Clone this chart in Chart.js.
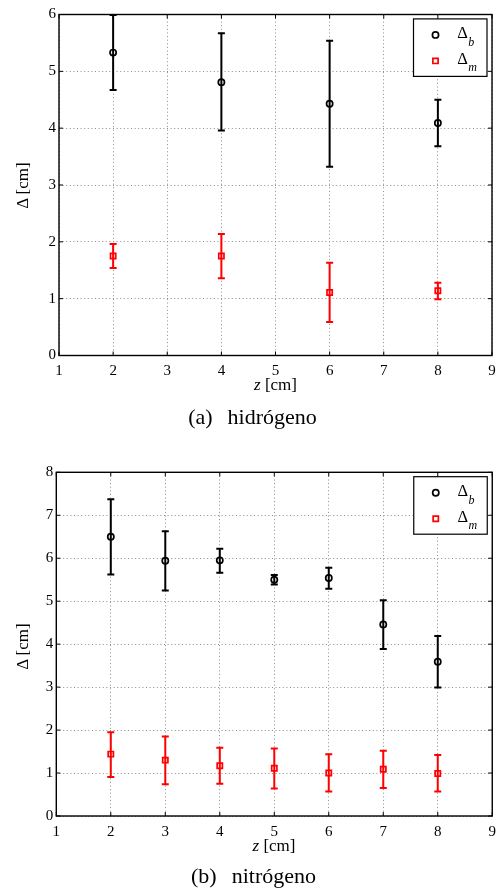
<!DOCTYPE html>
<html>
<head>
<meta charset="utf-8">
<script src="https://cdn.jsdelivr.net/npm/chart.js@4"></script>
<style>
  html, body { margin: 0; padding: 0; background: #fff; }
  #page { position: relative; width: 503px; height: 889px; overflow: hidden; font-family: "Liberation Serif", "Times New Roman", serif; color: #000; }
  canvas { position: absolute; left: 0; }
  .xt { position: absolute; left: 0; width: 100%; text-align: center; font-size: 17px; line-height: 17px; white-space: nowrap; }
  .yt { position: absolute; width: 80px; height: 17px; font-size: 17px; line-height: 17px; text-align: center; white-space: nowrap; transform: rotate(-90deg); }
  .cap { position: absolute; left: 0; width: 100%; text-align: center; font-size: 22px; line-height: 22px; white-space: nowrap; }
  .cap .gap { display: inline-block; width: 15px; }
</style>
</head>
<body>
<div id="page">
  <canvas id="chartH" width="503" height="400" style="top:0"></canvas>
  <canvas id="chartN" width="503" height="420" style="top:440px"></canvas>

  <div class="yt" style="left:-18px; top:176.5px">Δ [cm]</div>
  <div class="xt" style="top:375.8px; padding-left:48px; box-sizing:border-box; width:503px"><i>z</i> [cm]</div>
  <div class="cap" style="top:406px; padding-left:2px; box-sizing:border-box">(a)<span class="gap"></span>hidrógeno</div>

  <div class="yt" style="left:-18px; top:637.5px">Δ [cm]</div>
  <div class="xt" style="top:836.8px; padding-left:45px; box-sizing:border-box; width:503px"><i>z</i> [cm]</div>
  <div class="cap" style="top:864.6px; padding-left:4px; box-sizing:border-box">(b)<span class="gap"></span>nitrógeno</div>
</div>

<script>
// ---- hidrógeno ----
const zH      = [2, 4, 6, 8];
const hBMean  = [5.33, 4.81, 4.43, 4.09];
const hBLow   = [4.67, 3.96, 3.32, 3.68];
const hBHigh  = [5.99, 5.67, 5.54, 4.50];
const hMMean  = [1.75, 1.75, 1.11, 1.14];
const hMLow   = [1.54, 1.36, 0.59, 0.99];
const hMHigh  = [1.96, 2.14, 1.63, 1.28];

// ---- nitrógeno ----
const zN      = [2, 3, 4, 5, 6, 7, 8];
const nBMean  = [6.50, 5.94, 5.95, 5.50, 5.54, 4.46, 3.59];
const nBLow   = [5.62, 5.25, 5.66, 5.39, 5.29, 3.89, 2.99];
const nBHigh  = [7.37, 6.63, 6.22, 5.61, 5.78, 5.02, 4.19];
const nMMean  = [1.44, 1.30, 1.17, 1.11, 1.00, 1.09, 0.99];
const nMLow   = [0.91, 0.74, 0.75, 0.64, 0.57, 0.65, 0.57];
const nMHigh  = [1.95, 1.85, 1.59, 1.57, 1.44, 1.52, 1.42];

// axis ranges (tick labels are every integer)
const xRange  = [1, 9];
const yRangeH = [0, 6];
const yRangeN = [0, 8];

const legendLabels = [['Δ', 'b'], ['Δ', 'm']];

const FONT = '"Liberation Serif", "Times New Roman", serif';
const RED = '#ff0000';

function pts(xs, ys) { return xs.map((x, i) => ({ x: x, y: ys[i] })); }

// vertical error bars with caps, drawn from each dataset's low/high arrays
const errorBars = {
  id: 'errorBars',
  beforeDatasetsDraw(chart) {
    const ctx = chart.ctx, xs = chart.scales.x, ys = chart.scales.y;
    chart.data.datasets.forEach(ds => {
      ctx.save();
      ctx.strokeStyle = ds.borderColor;
      ctx.lineWidth = 2;
      ds.data.forEach((p, i) => {
        const px = xs.getPixelForValue(p.x);
        const y1 = ys.getPixelForValue(ds.errLow[i]);
        const y2 = ys.getPixelForValue(ds.errHigh[i]);
        const cw = 3.5;
        ctx.beginPath();
        ctx.moveTo(px, y1); ctx.lineTo(px, y2);
        ctx.moveTo(px - cw, y1); ctx.lineTo(px + cw, y1);
        ctx.moveTo(px - cw, y2); ctx.lineTo(px + cw, y2);
        ctx.stroke();
      });
      ctx.restore();
    });
  }
};

// closed box around the plot with inward ticks on all four sides
const frame = {
  id: 'frame',
  afterDraw(chart) {
    const ctx = chart.ctx, a = chart.chartArea, xs = chart.scales.x, ys = chart.scales.y;
    ctx.save();
    ctx.strokeStyle = '#000';
    ctx.lineWidth = 1.4;
    ctx.strokeRect(a.left, a.top, a.right - a.left, a.bottom - a.top);
    ctx.lineWidth = 1;
    ctx.beginPath();
    const tl = 4;
    xs.ticks.forEach(t => {
      const px = xs.getPixelForValue(t.value);
      ctx.moveTo(px, a.bottom); ctx.lineTo(px, a.bottom - tl);
      ctx.moveTo(px, a.top); ctx.lineTo(px, a.top + tl);
    });
    ys.ticks.forEach(t => {
      const py = ys.getPixelForValue(t.value);
      ctx.moveTo(a.left, py); ctx.lineTo(a.left + tl, py);
      ctx.moveTo(a.right, py); ctx.lineTo(a.right - tl, py);
    });
    ctx.stroke();
    ctx.restore();
  }
};

// boxed legend in the upper right corner of the plot
const boxLegend = {
  id: 'boxLegend',
  afterDraw(chart) {
    const ctx = chart.ctx, a = chart.chartArea;
    const W = 73.5, H = 57.5;
    const L = a.right - 5 - W, T = a.top + 4.4;
    ctx.save();
    ctx.fillStyle = '#fff';
    ctx.fillRect(L, T, W, H);
    ctx.strokeStyle = '#000';
    ctx.lineWidth = 1.2;
    ctx.strokeRect(L, T, W, H);
    const rows = [
      { my: 16, base: 19, sub: 27.2 },
      { my: 42, base: 44.8, sub: 52.4 }
    ];
    chart.data.datasets.forEach((ds, i) => {
      const r = rows[i];
      ctx.fillStyle = '#fff';
      ctx.strokeStyle = ds.borderColor;
      ctx.lineWidth = ds.borderWidth;
      Chart.helpers.drawPoint(ctx, {
        pointStyle: ds.pointStyle,
        radius: ds.pointRadius,
        borderWidth: ds.borderWidth
      }, L + 22, T + r.my);
      ctx.fillStyle = '#000';
      ctx.font = '16.5px ' + FONT;
      ctx.textBaseline = 'alphabetic';
      ctx.textAlign = 'left';
      const [main, sub] = legendLabels[i];
      ctx.fillText(main, L + 43.7, T + r.base);
      const w = ctx.measureText(main).width;
      ctx.font = 'italic 12px ' + FONT;
      ctx.fillText(sub, L + 43.7 + w + 0.5, T + r.sub);
    });
    ctx.restore();
  }
};

function makeChart(id, zs, bMean, bLow, bHigh, mMean, mLow, mHigh, yRange, geom) {
  return new Chart(document.getElementById(id), {
    type: 'scatter',
    data: {
      datasets: [
        {
          label: 'Δb',
          data: pts(zs, bMean),
          errLow: bLow, errHigh: bHigh,
          pointStyle: 'circle', pointRadius: 3.1, borderWidth: 1.7,
          borderColor: '#000', backgroundColor: 'rgba(0,0,0,0)'
        },
        {
          label: 'Δm',
          data: pts(zs, mMean),
          errLow: mLow, errHigh: mHigh,
          pointStyle: 'rect', pointRadius: 3.7, borderWidth: 1.7,
          borderColor: RED, backgroundColor: 'rgba(0,0,0,0)'
        }
      ]
    },
    options: {
      responsive: false,
      animation: false,
      events: [],
      layout: { padding: { top: geom.top, right: geom.right, left: 0, bottom: 0 } },
      plugins: { legend: { display: false }, tooltip: { enabled: false } },
      scales: {
        x: {
          type: 'linear', min: xRange[0], max: xRange[1],
          afterFit(s) { s.height = geom.xh; },
          ticks: { stepSize: 1, padding: 7, color: '#000', font: { family: FONT, size: 15 }, maxRotation: 0 },
          grid: { color: '#8c8c8c', lineWidth: 1, drawTicks: false },
          border: { display: false, dash: [1, 2.6] }
        },
        y: {
          type: 'linear', min: yRange[0], max: yRange[1],
          afterFit(s) { s.width = geom.yw; },
          ticks: { stepSize: 1, padding: 3, color: '#000', font: { family: FONT, size: 15 } },
          grid: { color: '#8c8c8c', lineWidth: 1, drawTicks: false },
          border: { display: false, dash: [1, 2.6] }
        }
      }
    },
    plugins: [errorBars, frame, boxLegend]
  });
}

makeChart('chartH', zH, hBMean, hBLow, hBHigh, hMMean, hMLow, hMHigh, yRangeH,
  { top: 14.5, right: 11, yw: 59, xh: 44.5 });
makeChart('chartN', zN, nBMean, nBLow, nBHigh, nMMean, nMLow, nMHigh, yRangeN,
  { top: 32.3, right: 10.7, yw: 56.3, xh: 44 });
</script>
</body>
</html>
